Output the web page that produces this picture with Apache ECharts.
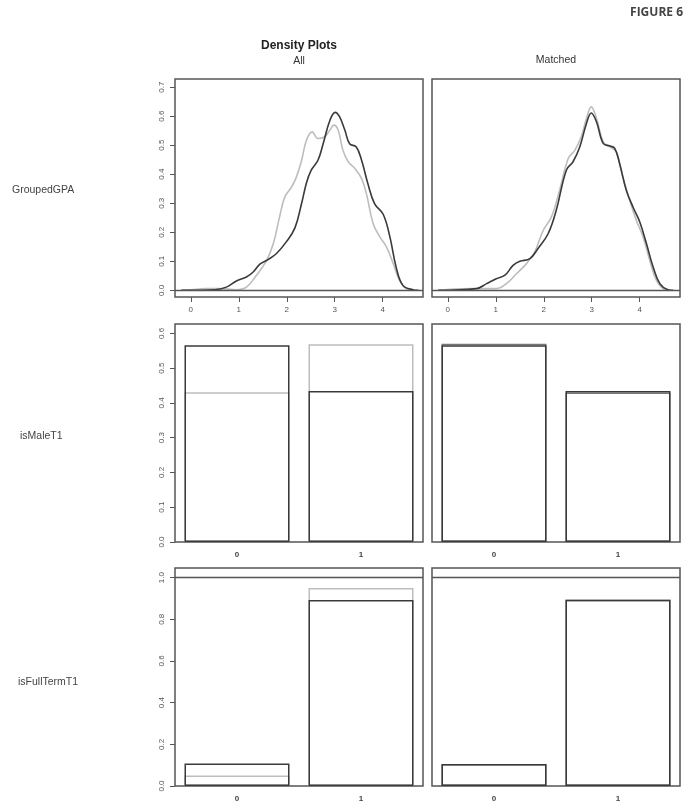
<!DOCTYPE html>
<html>
<head>
<meta charset="utf-8">
<script src="https://cdn.jsdelivr.net/npm/echarts@6/dist/echarts.min.js"></script>
<style>
html,body{margin:0;padding:0;background:#fff;}
#c{width:688px;height:804px;}
</style>
</head>
<body>
<div id="c"></div>
<script>
// ---- Data ----
const rowNames = ['GroupedGPA', 'isMaleT1', 'isFullTermT1'];
const colNames = ['All', 'Matched'];
const gpaTicks = [0, 1, 2, 3, 4];
const gpaYTicks = [0, 0.1, 0.2, 0.3, 0.4, 0.5, 0.6, 0.7];
const maleYTicks = [0, 0.1, 0.2, 0.3, 0.4, 0.5, 0.6];
const fullYTicks = [0, 0.2, 0.4, 0.6, 0.8, 1.0];
const binCats = ['0', '1'];

// density curves [GPA, density]
const gpaAllTreated = [[-0.2,0],[0.5,0.002],[0.74,0.011],[0.95,0.032],[1.16,0.046],[1.3,0.063],[1.44,0.09],[1.61,0.106],[1.78,0.126],[1.99,0.167],[2.17,0.215],[2.31,0.30],[2.41,0.37],[2.51,0.414],[2.65,0.448],[2.76,0.506],[2.90,0.586],[3.01,0.613],[3.10,0.598],[3.21,0.552],[3.31,0.505],[3.45,0.494],[3.56,0.448],[3.69,0.368],[3.83,0.299],[4.01,0.262],[4.15,0.184],[4.28,0.08],[4.42,0.017],[4.63,0.002],[4.75,0]];
const gpaAllControl = [[-0.2,0],[0.0,0.002],[0.3,0.006],[0.6,0.006],[0.95,0.002],[1.16,0.011],[1.37,0.052],[1.58,0.103],[1.72,0.161],[1.85,0.253],[1.96,0.322],[2.10,0.356],[2.20,0.39],[2.31,0.448],[2.41,0.517],[2.53,0.546],[2.65,0.523],[2.79,0.529],[2.90,0.552],[2.98,0.569],[3.07,0.552],[3.17,0.483],[3.28,0.443],[3.42,0.42],[3.56,0.385],[3.66,0.333],[3.80,0.23],[3.94,0.184],[4.08,0.149],[4.22,0.092],[4.35,0.034],[4.49,0.006],[4.65,0]];
const gpaMatchedTreated = [[-0.2,0],[0.6,0.006],[0.81,0.023],[1.01,0.040],[1.19,0.052],[1.36,0.086],[1.5,0.10],[1.71,0.109],[1.88,0.144],[2.09,0.195],[2.26,0.276],[2.47,0.414],[2.61,0.443],[2.75,0.494],[2.89,0.575],[2.99,0.611],[3.10,0.58],[3.24,0.506],[3.38,0.497],[3.48,0.489],[3.58,0.437],[3.72,0.345],[3.86,0.287],[4.0,0.236],[4.14,0.161],[4.28,0.08],[4.42,0.023],[4.59,0.002],[4.7,0]];
const gpaMatchedControl = [[-0.2,0],[0.25,0.005],[0.5,0.006],[1.01,0.006],[1.22,0.023],[1.43,0.057],[1.64,0.092],[1.81,0.132],[1.99,0.207],[2.16,0.253],[2.33,0.345],[2.51,0.454],[2.65,0.483],[2.78,0.529],[2.89,0.592],[2.99,0.632],[3.10,0.592],[3.24,0.511],[3.38,0.494],[3.51,0.477],[3.65,0.39],[3.79,0.31],[3.93,0.241],[4.07,0.184],[4.21,0.103],[4.35,0.034],[4.53,0.002],[4.65,0]];

// bar proportions
const maleAllTreated = [0.566, 0.434];
const maleAllControl = [0.431, 0.569];
const maleMatchedTreated = [0.566, 0.434];
const maleMatchedControl = [0.570, 0.430];
const fullAllTreated = [0.108, 0.892];
const fullAllControl = [0.050, 0.950];
const fullMatchedTreated = [0.106, 0.894];
const fullMatchedControl = [0.106, 0.894];

// ---- Styling ----
const DARK = '#3a3a3a';
const LIGHT = '#bdbdbd';
const BOX = '#555';
const FONT = 'Liberation Sans';

const colLeft = [175, 432];
const colWidth = 248;
const rowTop = [79, 324, 568];
const rowHeight = 218;

const grids = [];
for (let r = 0; r < 3; r++) for (let c = 0; c < 2; c++) {
  grids.push({left: colLeft[c], top: rowTop[r], width: colWidth, height: rowHeight,
    show: true, borderColor: BOX, borderWidth: 1.5, backgroundColor: 'transparent', containLabel: false});
}

const yRange = [[-0.023, 0.728], [0, 0.627], [0, 1.046]];
const yTickSets = [gpaYTicks, maleYTicks, fullYTicks];

const xAxes = [], yAxes = [];
for (let r = 0; r < 3; r++) for (let c = 0; c < 2; c++) {
  const gi = r * 2 + c;
  if (r === 0) {
    xAxes.push({type: 'value', gridIndex: gi, min: -0.33, max: 4.84, position: 'bottom',
      axisLine: {show: false, onZero: false}, splitLine: {show: false},
      axisTick: {show: true, inside: false, length: 5, customValues: gpaTicks, lineStyle: {color: BOX, width: 1}},
      axisLabel: {customValues: gpaTicks, fontSize: 8, color: '#555', margin: 9, fontFamily: FONT}});
  } else {
    xAxes.push({type: 'category', gridIndex: gi, data: binCats, boundaryGap: true, position: 'bottom',
      axisLine: {show: false, onZero: false}, axisTick: {show: false}, splitLine: {show: false},
      axisLabel: {fontSize: 8, color: '#444', fontWeight: 'bold', margin: 9, fontFamily: FONT}});
  }
  const showY = c === 0;
  yAxes.push({type: 'value', gridIndex: gi, min: yRange[r][0], max: yRange[r][1], position: 'left',
    axisLine: {show: false, onZero: false}, splitLine: {show: false},
    axisTick: {show: showY, inside: false, length: 5, customValues: yTickSets[r], lineStyle: {color: BOX, width: 1}},
    axisLabel: {show: showY, customValues: yTickSets[r], rotate: 90, fontSize: 8, color: '#555', margin: 9, fontFamily: FONT,
      formatter: v => v.toFixed(1)}});
}

const series = [];
function densSeries(gi, data, color, name) {
  return {type: 'line', name, xAxisIndex: gi, yAxisIndex: gi, data, smooth: 0.4, showSymbol: false,
    lineStyle: {color, width: 1.6}, z: color === DARK ? 3 : 2, silent: true};
}
series.push(densSeries(0, gpaAllControl, LIGHT, 'Control'));
series.push(densSeries(0, gpaAllTreated, DARK, 'Treated'));
series.push(densSeries(1, gpaMatchedControl, LIGHT, 'Control'));
series.push(densSeries(1, gpaMatchedTreated, DARK, 'Treated'));
// zero lines for density panels
[0, 1].forEach(gi => {
  series[gi * 2 + 1].markLine = {silent: true, symbol: 'none', label: {show: false},
    lineStyle: {color: '#555', width: 1.3, type: 'solid'}, data: [{yAxis: 0}]};
});

function barSeries(gi, data, color, name) {
  return {type: 'bar', name, xAxisIndex: gi, yAxisIndex: gi, data, barWidth: 105, barGap: '-100%',
    itemStyle: {color: 'rgba(0,0,0,0)', borderColor: color, borderWidth: 1.5}, silent: true, z: color === DARK ? 3 : 2};
}
series.push(barSeries(2, maleAllControl, LIGHT, 'Control'));
series.push(barSeries(2, maleAllTreated, DARK, 'Treated'));
series.push(barSeries(3, maleMatchedControl, '#777', 'Control'));
series.push(barSeries(3, maleMatchedTreated, DARK, 'Treated'));
series.push(barSeries(4, fullAllControl, LIGHT, 'Control'));
const fb = barSeries(4, fullAllTreated, DARK, 'Treated');
fb.markLine = {silent: true, symbol: 'none', label: {show: false}, lineStyle: {color: '#555', width: 1.3, type: 'solid'}, data: [{yAxis: 1.0}]};
series.push(fb);
series.push(barSeries(5, fullMatchedControl, '#777', 'Control'));
const fd = barSeries(5, fullMatchedTreated, DARK, 'Treated');
fd.markLine = {silent: true, symbol: 'none', label: {show: false}, lineStyle: {color: '#555', width: 1.3, type: 'solid'}, data: [{yAxis: 1.0}]};
series.push(fd);

const T = (o) => Object.assign({padding: 0}, o);
const titles = [
  T({text: 'FIGURE 6', right: 5, top: 7, textStyle: {fontSize: 12, fontWeight: 'bold', color: '#444', fontFamily: 'Open Sans'}}),
  T({text: 'Density Plots', left: 299, top: 40, textAlign: 'center', textStyle: {fontSize: 12, fontWeight: 'bold', color: '#222', fontFamily: FONT}}),
  T({text: colNames[0], left: 299, top: 56, textAlign: 'center', textStyle: {fontSize: 10.5, fontWeight: 'normal', color: '#333', fontFamily: FONT}}),
  T({text: colNames[1], left: 556, top: 55, textAlign: 'center', textStyle: {fontSize: 10.5, fontWeight: 'normal', color: '#333', fontFamily: FONT}}),
  T({text: rowNames[0], left: 12, top: 185, textStyle: {fontSize: 10.5, fontWeight: 'normal', color: '#444', fontFamily: FONT}}),
  T({text: rowNames[1], left: 20, top: 431, textStyle: {fontSize: 10.5, fontWeight: 'normal', color: '#444', fontFamily: FONT}}),
  T({text: rowNames[2], left: 18, top: 677, textStyle: {fontSize: 10.5, fontWeight: 'normal', color: '#444', fontFamily: FONT}})
];

const chart = echarts.init(document.getElementById('c'), null, {renderer: 'canvas'});
chart.setOption({
  backgroundColor: '#fff',
  animation: false,
  title: titles,
  grid: grids,
  xAxis: xAxes,
  yAxis: yAxes,
  series
});
</script>
</body>
</html>
